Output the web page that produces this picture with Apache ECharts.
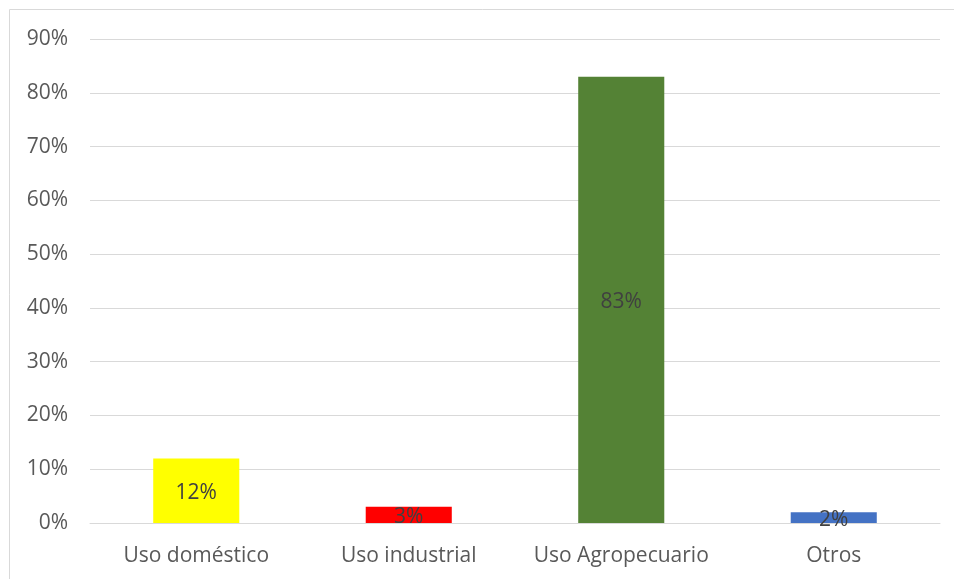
<!DOCTYPE html>
<html>
<head>
<meta charset="utf-8">
<script src="https://cdn.jsdelivr.net/npm/echarts@6/dist/echarts.min.js"></script>
<style>
html,body{margin:0;padding:0;background:#fff;}
#c{width:954px;height:579px;}
</style>
</head>
<body>
<div id="c"></div>
<script>
const categories = ["Uso doméstico", "Uso industrial", "Uso Agropecuario", "Otros"];
const values = [12, 3, 83, 2];
const barColors = ["#FFFF00", "#FF0000", "#548235", "#4472C4"];

const chart = echarts.init(document.getElementById('c'));
chart.setOption({
  animation: false,
  graphic: [{
    type: 'rect',
    shape: {x: 9.5, y: 9.5, width: 960, height: 600},
    style: {fill: 'none', stroke: '#d9d9d9', lineWidth: 1},
    silent: true
  }],
  grid: {left: 90, right: 14, top: 39, bottom: 56},
  xAxis: {
    type: 'category',
    data: categories,
    axisLine: {show: true, lineStyle: {color: '#d9d9d9', width: 1}},
    axisTick: {show: false},
    axisLabel: {interval: 0, color: '#595959', fontSize: 21, fontFamily: '"Open Sans", "Liberation Sans", sans-serif', margin: 23}
  },
  yAxis: {
    type: 'value',
    min: 0, max: 90, interval: 10,
    axisLine: {show: false},
    axisTick: {show: false},
    splitLine: {lineStyle: {color: '#d9d9d9', width: 1}},
    axisLabel: {color: '#595959', fontSize: 21, fontFamily: '"Open Sans", "Liberation Sans", sans-serif', margin: 22, formatter: '{value}%', padding: [3, 0, 0, 0]}
  },
  series: [{
    type: 'bar',
    data: values.map((v, i) => ({value: v, itemStyle: {color: barColors[i]}})),
    barWidth: '40.5%',
    label: {
      show: true,
      position: 'inside',
      color: '#404040',
      fontSize: 21,
      fontFamily: '"Open Sans", "Liberation Sans", sans-serif',
      offset: [0, 2],
      formatter: '{c}%'
    }
  }]
});
</script>
</body>
</html>
